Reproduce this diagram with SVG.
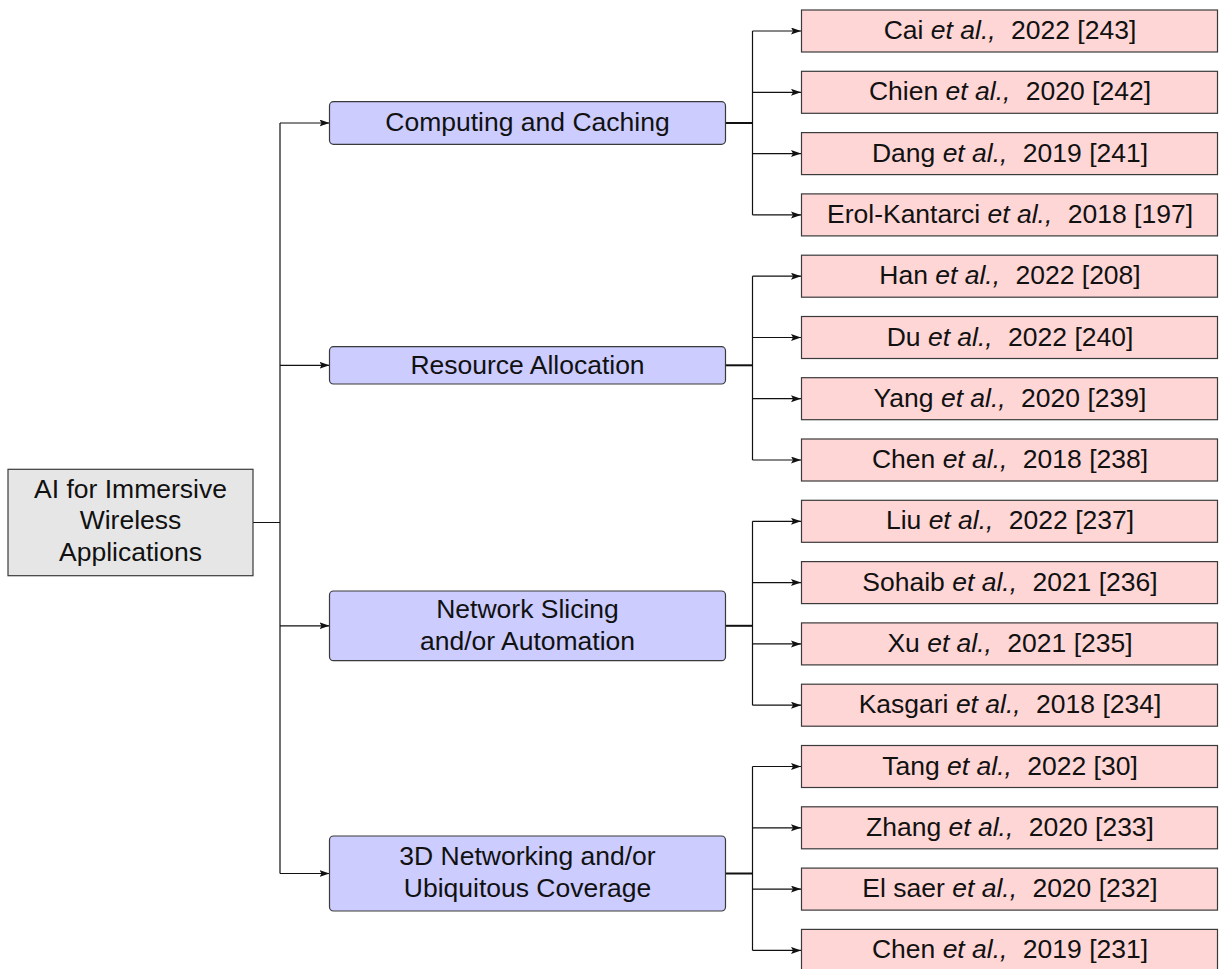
<svg xmlns="http://www.w3.org/2000/svg" width="1219" height="969" viewBox="0 0 1219 969">
<defs>
<style>
text{font-family:"Liberation Sans",Arial,Helvetica,sans-serif;font-size:26.5px;fill:#111;text-anchor:middle}
.it{font-style:italic}
.root{fill:#e6e6e6;stroke:#3a3a3a;stroke-width:1.2}
.mid{fill:#ccccff;stroke:#3a3a3a;stroke-width:1.2}
.leaf{fill:#ffd6d6;stroke:#3a3a3a;stroke-width:1.2}
.c{fill:none;stroke:#111;stroke-width:1.2}
.cb{fill:none;stroke:#111;stroke-width:2}
.a{fill:none;stroke:#111;stroke-width:1.2;marker-end:url(#ah)}
</style>
<marker id="ah" markerUnits="userSpaceOnUse" markerWidth="11" markerHeight="8" refX="10" refY="3.5" orient="auto">
<path d="M0,0 L10,3.5 L0,7 L2,3.5 Z" fill="#111"/>
</marker>
</defs>

<g id="connectors">
<path class="c" d="M253,522.5 H280 M280,123 V873.5"/>
<path class="a" d="M280,123 H329.5"/>
<path class="a" d="M280,365.3 H329.5"/>
<path class="a" d="M280,625.8 H329.5"/>
<path class="a" d="M280,873.5 H329.5"/>
<path class="cb" d="M725.5,123 H752.5"/>
<path class="c" d="M752.5,31 V214.9"/>
<path class="a" d="M752.5,31 H801"/>
<path class="a" d="M752.5,92.3 H801"/>
<path class="a" d="M752.5,153.6 H801"/>
<path class="a" d="M752.5,214.9 H801"/>
<path class="cb" d="M725.5,365.3 H752.5"/>
<path class="c" d="M752.5,276.2 V460"/>
<path class="a" d="M752.5,276.2 H801"/>
<path class="a" d="M752.5,337.5 H801"/>
<path class="a" d="M752.5,398.7 H801"/>
<path class="a" d="M752.5,460 H801"/>
<path class="cb" d="M725.5,625.8 H752.5"/>
<path class="c" d="M752.5,521.3 V705.2"/>
<path class="a" d="M752.5,521.3 H801"/>
<path class="a" d="M752.5,582.6 H801"/>
<path class="a" d="M752.5,643.9 H801"/>
<path class="a" d="M752.5,705.2 H801"/>
<path class="cb" d="M725.5,873.5 H752.5"/>
<path class="c" d="M752.5,766.5 V950.4"/>
<path class="a" d="M752.5,766.5 H801"/>
<path class="a" d="M752.5,827.8 H801"/>
<path class="a" d="M752.5,889.1 H801"/>
<path class="a" d="M752.5,950.4 H801"/>
</g>

<g id="root">
<rect class="root" x="8" y="469.3" width="245" height="106.4"/>
<text x="130.5" y="497.5">AI for Immersive</text>
<text x="130.5" y="529">Wireless</text>
<text x="130.5" y="560.5">Applications</text>
</g>

<g id="computing">
<rect class="mid" x="329.5" y="101.7" width="396" height="42.6" rx="4"/>
<text x="527.5" y="131">Computing and Caching</text>
</g>
<g id="resource">
<rect class="mid" x="329.5" y="346.7" width="396" height="37.3" rx="4"/>
<text x="527.5" y="373.5">Resource Allocation</text>
</g>
<g id="slicing">
<rect class="mid" x="329.5" y="591" width="396" height="69.7" rx="4"/>
<text x="527.5" y="618">Network Slicing</text>
<text x="527.5" y="649.5">and/or Automation</text>
</g>
<g id="networking3d">
<rect class="mid" x="329.5" y="836" width="396" height="75" rx="4"/>
<text x="527.5" y="865">3D Networking and/or</text>
<text x="527.5" y="896.5">Ubiquitous Coverage</text>
</g>

<g id="leaf-cai"><rect class="leaf" x="801.5" y="10" width="416" height="42"/>
<text x="1010" y="39">Cai <tspan class="it">et al.,</tspan> <tspan dx="8">2022 [243]</tspan></text></g>
<g id="leaf-chien"><rect class="leaf" x="801.5" y="71.3" width="416" height="42"/>
<text x="1010" y="100.3">Chien <tspan class="it">et al.,</tspan> <tspan dx="8">2020 [242]</tspan></text></g>
<g id="leaf-dang"><rect class="leaf" x="801.5" y="132.6" width="416" height="42"/>
<text x="1010" y="161.6">Dang <tspan class="it">et al.,</tspan> <tspan dx="8">2019 [241]</tspan></text></g>
<g id="leaf-erol"><rect class="leaf" x="801.5" y="193.9" width="416" height="42"/>
<text x="1010" y="222.9">Erol-Kantarci <tspan class="it">et al.,</tspan> <tspan dx="8">2018 [197]</tspan></text></g>
<g id="leaf-han"><rect class="leaf" x="801.5" y="255.2" width="416" height="42"/>
<text x="1010" y="284.2">Han <tspan class="it">et al.,</tspan> <tspan dx="8">2022 [208]</tspan></text></g>
<g id="leaf-du"><rect class="leaf" x="801.5" y="316.5" width="416" height="42"/>
<text x="1010" y="345.5">Du <tspan class="it">et al.,</tspan> <tspan dx="8">2022 [240]</tspan></text></g>
<g id="leaf-yang"><rect class="leaf" x="801.5" y="377.7" width="416" height="42"/>
<text x="1010" y="406.7">Yang <tspan class="it">et al.,</tspan> <tspan dx="8">2020 [239]</tspan></text></g>
<g id="leaf-chen2018"><rect class="leaf" x="801.5" y="439" width="416" height="42"/>
<text x="1010" y="468">Chen <tspan class="it">et al.,</tspan> <tspan dx="8">2018 [238]</tspan></text></g>
<g id="leaf-liu"><rect class="leaf" x="801.5" y="500.3" width="416" height="42"/>
<text x="1010" y="529.3">Liu <tspan class="it">et al.,</tspan> <tspan dx="8">2022 [237]</tspan></text></g>
<g id="leaf-sohaib"><rect class="leaf" x="801.5" y="561.6" width="416" height="42"/>
<text x="1010" y="590.6">Sohaib <tspan class="it">et al.,</tspan> <tspan dx="8">2021 [236]</tspan></text></g>
<g id="leaf-xu"><rect class="leaf" x="801.5" y="622.9" width="416" height="42"/>
<text x="1010" y="651.9">Xu <tspan class="it">et al.,</tspan> <tspan dx="8">2021 [235]</tspan></text></g>
<g id="leaf-kasgari"><rect class="leaf" x="801.5" y="684.2" width="416" height="42"/>
<text x="1010" y="713.2">Kasgari <tspan class="it">et al.,</tspan> <tspan dx="8">2018 [234]</tspan></text></g>
<g id="leaf-tang"><rect class="leaf" x="801.5" y="745.5" width="416" height="42"/>
<text x="1010" y="774.5">Tang <tspan class="it">et al.,</tspan> <tspan dx="8">2022 [30]</tspan></text></g>
<g id="leaf-zhang"><rect class="leaf" x="801.5" y="806.8" width="416" height="42"/>
<text x="1010" y="835.8">Zhang <tspan class="it">et al.,</tspan> <tspan dx="8">2020 [233]</tspan></text></g>
<g id="leaf-elsaer"><rect class="leaf" x="801.5" y="868.1" width="416" height="42"/>
<text x="1010" y="897.1">El saer <tspan class="it">et al.,</tspan> <tspan dx="8">2020 [232]</tspan></text></g>
<g id="leaf-chen2019"><rect class="leaf" x="801.5" y="929.4" width="416" height="42"/>
<text x="1010" y="958.4">Chen <tspan class="it">et al.,</tspan> <tspan dx="8">2019 [231]</tspan></text></g>
</svg>
